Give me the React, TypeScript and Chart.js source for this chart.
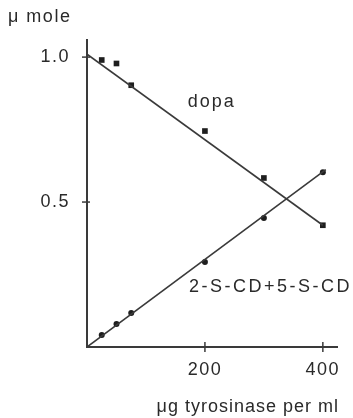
import React, { useEffect, useRef } from "react";
import { Chart, registerables } from "chart.js";

Chart.register(...registerables);

// Data
const doseX = [25, 50, 75, 200, 300, 400];
const dopaValues = [0.99, 0.978, 0.903, 0.745, 0.583, 0.42];
const cdValues = [0.041, 0.079, 0.117, 0.293, 0.445, 0.603];
const dopaFitX = [0, 400];
const dopaFitY = [1.01, 0.42];
const cdFitX = [0, 405];
const cdFitY = [0, 0.612];
const yTickValues = [0.5, 1.0];
const xTickValues = [200, 400];

const INK = "#2a2a2a";
const LINE = "#3a3a3a";
const FONT = "'Liberation Sans', Arial, Helvetica, sans-serif";

export default function App() {
  const ref = useRef<HTMLCanvasElement | null>(null);

  useEffect(() => {
    const canvas = ref.current;
    if (!canvas) return;

    const zip = (xs: number[], ys: number[]) => xs.map((x, i) => ({ x, y: ys[i] }));

    const decor = {
      id: "decor",
      beforeDraw(chart: any) {
        (chart.ctx as any).letterSpacing = "1.5px";
      },
      afterDraw(chart: any) {
        const ctx = chart.ctx as any;
        const xs = chart.scales.x;
        const ys = chart.scales.y;
        const ax = chart.chartArea.left;
        const ay = chart.chartArea.bottom;
        ctx.save();
        ctx.strokeStyle = LINE;
        ctx.lineWidth = 1.5;
        // tick marks crossing the axes
        yTickValues.forEach((v) => {
          const py = ys.getPixelForValue(v);
          ctx.beginPath();
          ctx.moveTo(ax - 5, py);
          ctx.lineTo(ax + 3, py);
          ctx.stroke();
        });
        xTickValues.forEach((v) => {
          const px = xs.getPixelForValue(v);
          ctx.beginPath();
          ctx.moveTo(px, ay - 5);
          ctx.lineTo(px, ay + 5);
          ctx.stroke();
        });
        // texts
        ctx.fillStyle = INK;
        ctx.font = `18px ${FONT}`;
        ctx.textBaseline = "middle";
        ctx.textAlign = "left";
        ctx.letterSpacing = "1.5px";
        ctx.fillText("μ mole", 8, 17);
        ctx.letterSpacing = "2px";
        ctx.fillText("dopa", xs.getPixelForValue(171), ys.getPixelForValue(0.845));
        ctx.letterSpacing = "2.5px";
        ctx.fillText("2-S-CD+5-S-CD", xs.getPixelForValue(173), ys.getPixelForValue(0.207));
        ctx.letterSpacing = "1px";
        ctx.textAlign = "right";
        ctx.fillText("μg tyrosinase per ml", 339, 407);
        ctx.restore();
      },
    };

    const chart = new Chart(canvas, {
      type: "scatter",
      data: {
        datasets: [
          {
            label: "dopa fit",
            data: zip(dopaFitX, dopaFitY),
            showLine: true,
            borderColor: LINE,
            borderWidth: 1.6,
            pointRadius: 0,
          },
          {
            label: "2-S-CD+5-S-CD fit",
            data: zip(cdFitX, cdFitY),
            showLine: true,
            borderColor: LINE,
            borderWidth: 1.6,
            pointRadius: 0,
          },
          {
            label: "dopa",
            data: zip(doseX, dopaValues),
            pointStyle: "rect",
            pointRadius: 4,
            backgroundColor: "#1e1e1e",
            borderColor: "#1e1e1e",
            borderWidth: 0,
          },
          {
            label: "2-S-CD+5-S-CD",
            data: zip(doseX, cdValues),
            pointStyle: "circle",
            pointRadius: 3,
            backgroundColor: "#1e1e1e",
            borderColor: "#1e1e1e",
            borderWidth: 0,
          },
        ],
      },
      options: {
        animation: false,
        responsive: false,
        maintainAspectRatio: false,
        layout: { padding: { left: 0, right: 16, top: 40, bottom: 0 } },
        plugins: {
          legend: { display: false },
          tooltip: { enabled: false },
        },
        scales: {
          x: {
            type: "linear",
            min: 0,
            max: 424,
            grid: { display: false, drawTicks: false },
            border: { display: true, color: LINE, width: 2 },
            afterFit: (s: any) => {
              s.height = 71;
            },
            afterBuildTicks: (s: any) => {
              s.ticks = xTickValues.map((value) => ({ value }));
            },
            ticks: {
              color: INK,
              font: { family: FONT, size: 18 },
              padding: 12,
              maxRotation: 0,
              callback: (v: any) => String(v),
            },
          },
          y: {
            type: "linear",
            min: 0,
            max: 1.059,
            grid: { display: false, drawTicks: false },
            border: { display: true, color: LINE, width: 2 },
            afterFit: (s: any) => {
              s.width = 87;
            },
            afterBuildTicks: (s: any) => {
              s.ticks = yTickValues.map((value) => ({ value }));
            },
            ticks: {
              color: INK,
              font: { family: FONT, size: 18 },
              padding: 17,
              callback: (v: any) => Number(v).toFixed(1),
            },
          },
        },
      },
      plugins: [decor],
    } as any);

    return () => chart.destroy();
  }, []);

  return (
    <div style={{ position: "absolute", left: 0, top: 0, width: 353, height: 418, background: "#fff" }}>
      <canvas ref={ref} width={353} height={418} style={{ display: "block" }} />
    </div>
  );
}
